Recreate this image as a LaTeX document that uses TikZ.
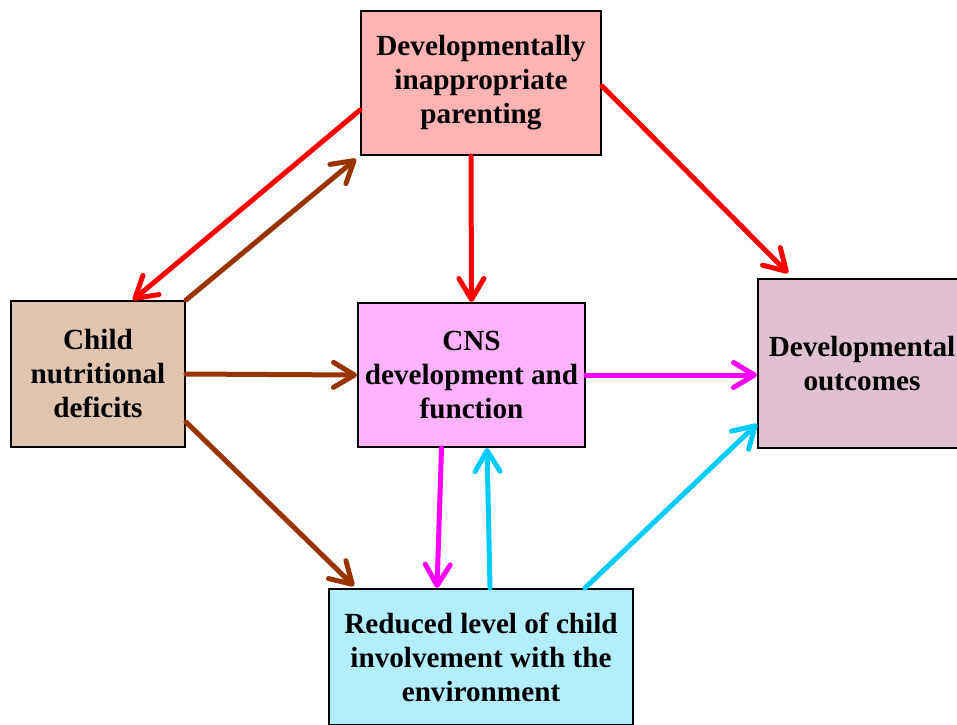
\documentclass[tikz,border=0pt]{standalone}
\usepackage{fontspec}
\setmainfont{Liberation Serif}
\usetikzlibrary{arrows.meta}
\definecolor{parentfill}{HTML}{FFB3B3}
\definecolor{nutrfill}{HTML}{DFC4B0}
\definecolor{cnsfill}{HTML}{FFB3FF}
\definecolor{outfill}{HTML}{DFC1D0}
\definecolor{envfill}{HTML}{B3EEFF}
\definecolor{redline}{HTML}{FF0000}
\definecolor{brownline}{HTML}{993300}
\definecolor{magline}{HTML}{FF00FF}
\definecolor{cyanline}{HTML}{00CCFF}
\tikzset{
  box/.style={draw=black, line width=2pt, inner sep=0pt, align=center,
    font=\fontsize{29.2}{34}\selectfont\bfseries},
  link/.style={line width=5pt, line cap=round,
    -{Straight Barb[length=21pt,width=25pt,round]}},
}
\begin{document}
\begin{tikzpicture}[x=1pt,y=-1pt]
\useasboundingbox (0,0) rectangle (957,724);
\clip (0,0) rectangle (957,724);
% boxes
\node[box, fill=parentfill, minimum width=240pt, minimum height=144pt] (parenting) at (481,83)
  {Developmentally\\inappropriate\\parenting};
\node[box, fill=nutrfill, minimum width=174pt, minimum height=146pt] (nutrition) at (98,374)
  {Child\\nutritional\\deficits};
\node[box, fill=cnsfill, minimum width=227pt, minimum height=144pt] (cns) at (471.5,375)
  {CNS\\development and\\function};
\node[box, fill=outfill, minimum width=208pt, minimum height=169pt] (outcomes) at (862,363.5)
  {Developmental\\outcomes};
\node[box, fill=envfill, minimum width=304pt, minimum height=136pt] (involvement) at (481,657)
  {Reduced level of child\\involvement with the\\environment};
% parenting links
\draw[link, redline] ([yshift=-27pt]parenting.west) -- ([xshift=35pt]nutrition.north);
\draw[link, redline] ([xshift=-10pt]parenting.south) -- (cns.north);
\draw[link, redline] ([yshift=-3pt]parenting.east) -- ([xshift=31pt,yshift=5pt]outcomes.north west);
% nutrition links
\draw[link, brownline] (nutrition.north east) -- ([xshift=-4pt,yshift=-3pt]parenting.south west);
\draw[link, brownline] (nutrition.east) -- (cns.west);
\draw[link, brownline] ([yshift=-48pt]nutrition.east) -- ([xshift=26pt,yshift=2pt]involvement.north west);
% CNS links
\draw[link, magline] (cns.east) -- (cns.east -| outcomes.west);
\draw[link, magline] ([xshift=-30pt]cns.south) -- ([xshift=-44pt]involvement.north);
% involvement links
\draw[link, cyanline] ([xshift=9pt]involvement.north) -- ([xshift=15.5pt]cns.south);
\draw[link, cyanline] ([xshift=104pt]involvement.north) -- ([yshift=-60.5pt]outcomes.west);
\end{tikzpicture}
\end{document}
